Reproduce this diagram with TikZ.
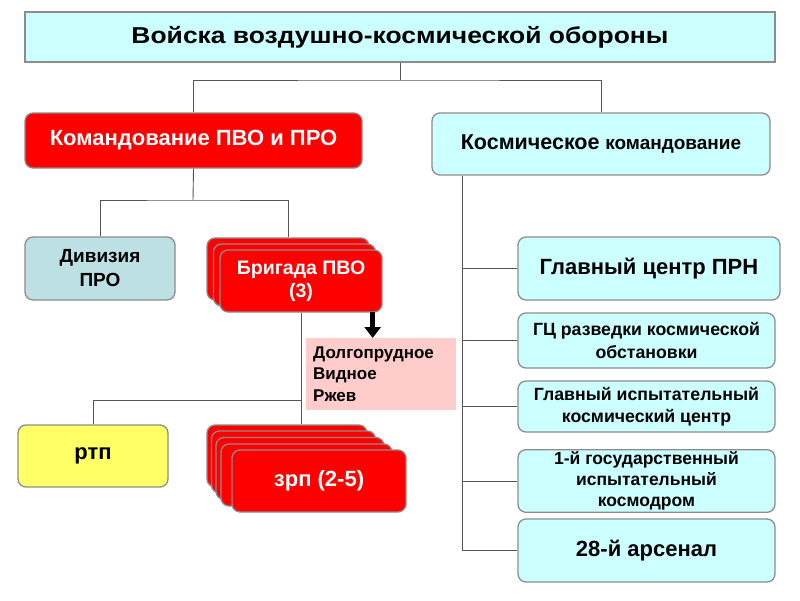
\documentclass[tikz,border=0pt]{standalone}
\usepackage{fontspec}
\setmainfont{Liberation Sans}
\usetikzlibrary{arrows.meta,positioning,calc}
\definecolor{cyanbox}{HTML}{CCFFFF}
\definecolor{tealbox}{HTML}{BCE0E4}
\definecolor{redbox}{HTML}{FF0000}
\definecolor{yelbox}{HTML}{FFFF66}
\definecolor{pinkbox}{HTML}{FFCCCC}
\definecolor{edge}{HTML}{8C8C8C}
\definecolor{conncol}{HTML}{555555}
\tikzset{
  box/.style={draw=edge, line width=1.3pt, rounded corners=8pt, align=center,
    inner sep=2pt, font=\bfseries},
  cbox/.style={box, fill=cyanbox},
  rbox/.style={box, fill=redbox, text=white},
  conn/.style={draw=conncol, line width=0.9pt},
}
\begin{document}
\begin{tikzpicture}[x=1pt,y=-1pt]
\useasboundingbox (0,0) rectangle (800,600);
\fill[white] (0,0) rectangle (800,600);

% title
\node[cbox, rounded corners=0pt, minimum width=750pt, minimum height=50pt,
  font=\bfseries\fontsize{23}{26}\selectfont] (title) at (400,37)
  {\scalebox{1.15}[1]{Войска воздушно-космической обороны}};

% second level
\node[rbox, minimum width=337pt, minimum height=55pt,
  font=\bfseries\fontsize{22}{25}\selectfont] (kpvo) at (193.5,140.5)
  {Командование ПВО и ПРО};
\node[cbox, minimum width=338pt, minimum height=62pt] (kk) at (601,144)
  {{\fontsize{21.5}{24}\selectfont Космическое}\hspace{3pt} {\fontsize{19}{22}\selectfont командование}};

% third level left
\node[box, fill=tealbox, minimum width=150pt, minimum height=63pt,
  font=\bfseries\fontsize{19}{24}\selectfont] (div) at (100,268.5)
  {Дивизия\\ПРО};
\node[rbox, minimum width=162pt, minimum height=62pt] (brig3) at (288,269) {};
\node[rbox, minimum width=162pt, minimum height=62pt] (brig2) at (294.5,275) {};
\node[rbox, minimum width=162pt, minimum height=62pt,
  font=\bfseries\fontsize{19.5}{23}\selectfont] (brig) at (301,281)
  {Бригада ПВО\\(3)};

% towns
\node[fill=pinkbox, anchor=north west, minimum width=150pt, minimum height=72pt,
  text width=136pt, align=left, inner sep=5pt, inner xsep=7pt,
  font=\bfseries\fontsize{17}{21.5}\selectfont] (towns) at (306,338)
  {Долгопрудное\\Видное\\Ржев};

% fourth level
\node[box, fill=yelbox, minimum width=150pt, minimum height=62pt,
  font=\bfseries\fontsize{22}{25}\selectfont] (rtp) at (93,456) {ртп};
\node[rbox, minimum width=160pt, minimum height=62pt] (zrp4) at (287,456) {};
\node[rbox, minimum width=164pt, minimum height=62pt] (zrp3) at (293.5,462) {};
\node[rbox, minimum width=168pt, minimum height=62pt] (zrp2) at (300,468.5) {};
\node[rbox, minimum width=171pt, minimum height=62pt] (zrp1) at (306.5,475) {};
\node[rbox, minimum width=174pt, minimum height=62pt,
  font=\bfseries\fontsize{22}{25}\selectfont] (zrp) at (319,481) {зрп (2-5)};

% right column
\node[cbox, minimum width=262pt, minimum height=63pt,
  font=\bfseries\fontsize{22}{25}\selectfont] (prn) at (649,268.5)
  {Главный центр ПРН};
\node[cbox, minimum width=257pt, minimum height=55pt,
  font=\bfseries\fontsize{17.7}{23}\selectfont] (gcr) at (646.5,340.5)
  {ГЦ разведки космической\\обстановки};
\node[cbox, minimum width=257pt, minimum height=51pt,
  font=\bfseries\fontsize{17.7}{22}\selectfont] (gik) at (646.5,406.5)
  {Главный испытательный\\космический центр};
\node[cbox, minimum width=257pt, minimum height=62pt,
  font=\bfseries\fontsize{17.5}{21}\selectfont] (kosm) at (646.5,481)
  {1-й государственный\\испытательный\\космодром};
\node[cbox, minimum width=257pt, minimum height=63pt,
  font=\bfseries\fontsize{22}{25}\selectfont] (ars) at (646.5,550.5)
  {28-й арсенал};

% connectors
\coordinate (j1) at (400,80);
\draw[conn] (title.south) -- (j1);
\draw[conn] (kpvo.north) |- (j1) -| (kk.north);

\coordinate (j2) at (193,200);
\draw[conn] (kpvo.south) -- (j2);
\draw[conn] (div.north) |- (j2) -| (brig3.north);

\coordinate (kkl) at ([xshift=31pt]kk.south west);
\draw[conn] (kkl) |- (ars.west);
\draw[conn] (kkl |- prn.west) -- (prn.west);
\draw[conn] (kkl |- gcr.west) -- (gcr.west);
\draw[conn] (kkl |- gik.west) -- (gik.west);
\draw[conn] (kkl |- kosm.west) -- (kosm.west);

\coordinate (j3) at (brig.south |- 0,400);
\draw[conn] (brig.south) -- (brig.south |- zrp4.north);
\draw[conn] (rtp.north) |- (j3);

% black arrow
\coordinate (ab) at ([xshift=-10pt]brig.south east);
\draw[black, line width=5.5pt, -{Triangle[length=11pt,width=16pt]}]
  ([yshift=1pt]ab) -- (ab |- towns.north);
\end{tikzpicture}
\end{document}
